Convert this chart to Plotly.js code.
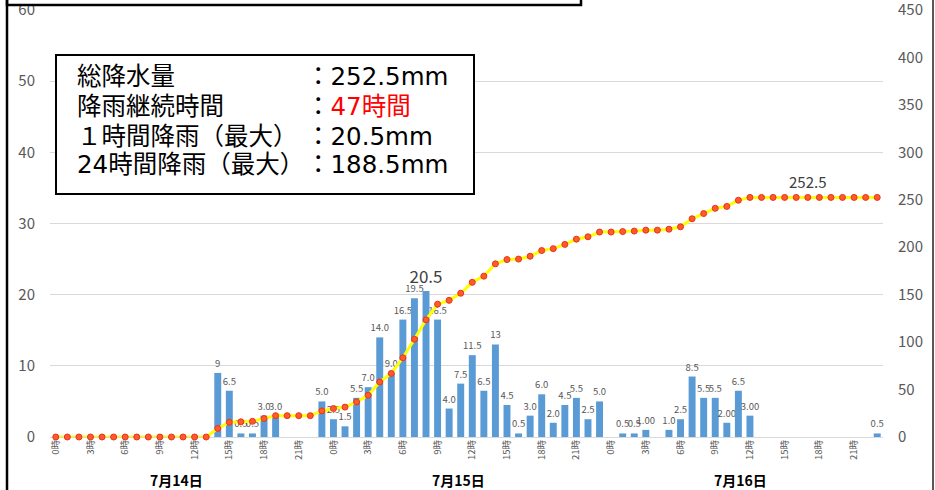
<!DOCTYPE html>
<html><head><meta charset="utf-8">
<script src="https://cdn.plot.ly/plotly-3.0.1.min.js"></script>
<style>html,body{margin:0;padding:0;background:#fff}#chart{width:935px;height:490px}</style>
</head><body><div id="chart"></div>
<script>
// ---- data ----
const days = ["7月14日", "7月15日", "7月16日"];
const hours = ["0時","1時","2時","3時","4時","5時","6時","7時","8時","9時","10時","11時",
               "12時","13時","14時","15時","16時","17時","18時","19時","20時","21時","22時","23時"];
// hourly rainfall (mm), 7/14 0時 .. 7/16 23時
const rainfall = [
  0,0,0,0,0,0,0,0,0,0,0,0,0,0, 9,6.5,0.5,0.5,3,3,0,0,0,5,
  2.5,1.5,5.5,7,14,9,16.5,19.5,20.5,16.5,4,7.5,11.5,6.5,13,4.5,0.5,3,6,2,4.5,5.5,2.5,5,
  0,0.5,0.5,1,0,1,2.5,8.5,5.5,5.5,2,6.5,3,0,0,0,0,0,0,0,0,0,0,0.5
];
const rainLabels = [
  "","","","","","","","","","","","","","", "9","6.5","0.5","0.5","3.0","3.0","","","","5.0",
  "2.5","1.5","5.5","7.0","14.0","9.0","16.5","19.5","20.5","16.5","4.0","7.5","11.5","6.5","13","4.5","0.5","3.0","6.0","2.0","4.5","5.5","2.5","5.0",
  "","0.5","0.5","1.00","","1.0","2.5","8.5","5.5","5.5","2.00","6.5","3.00","","","","","","","","","","","0.5"
];
// cumulative rainfall (mm)
const cumulative = [
  0,0,0,0,0,0,0,0,0,0,0,0,0,0, 9,15.5,16,16.5,19.5,22.5,22.5,22.5,22.5,27.5,
  30,31.5,37,44,58,67,83.5,103,123.5,140,144,151.5,163,169.5,182.5,187,187.5,190.5,196.5,198.5,203,208.5,211,216,
  216,216.5,217,218,218,219,221.5,230,235.5,241,243,249.5,252.5,252.5,252.5,252.5,252.5,252.5,252.5,252.5,252.5,252.5,252.5,252.5
];
const maxHourLabel = "20.5";
const totalLabel = "252.5";
const summaryNames = ["総降水量", "降雨継続時間", "１時間降雨（最大）", "24時間降雨（最大）"];
const summaryValues = ["：252.5mm", "：<span style='color:#FF0000'>47時間</span>", "：20.5mm", "：188.5mm"];
const tickEvery = 3;

// ---- build ----
const cats = [];
days.forEach(d => hours.forEach(h => cats.push(d + " " + h)));
const tickvals = [], ticktext = [];
cats.forEach((c, i) => { if ((i % 24) % tickEvery === 0) { tickvals.push(c); ticktext.push(hours[i % 24]); } });

const FONT = "Noto Sans CJK JP, Noto Sans, sans-serif";
const BOXFONT = "DejaVu Sans, Noto Sans CJK JP, sans-serif";
const maxIdx = rainLabels.indexOf(maxHourLabel);
const textSizes = rainLabels.map((t, i) => i === maxIdx ? 17 : 9.5);
const textColors = rainLabels.map((t, i) => i === maxIdx ? "#404040" : "#595959");

const bars = {
  type: "bar", x: cats, y: rainfall, yaxis: "y",
  marker: { color: "#5B9BD5" },
  text: rainLabels, textposition: "outside", cliponaxis: false, constraintext: "none",
  textfont: { size: textSizes, color: textColors, family: FONT },
  hoverinfo: "x+y"
};
const line = {
  type: "scatter", mode: "lines+markers", x: cats, y: cumulative, yaxis: "y2",
  line: { color: "#FFFF00", width: 3 },
  marker: { color: "#FF5A2A", size: 6, line: { color: "#E8341C", width: 1 } },
  cliponaxis: false
};

const L = 50, R = 52, T = 10, B = 53, W = 935, H = 490;
const pw = W - L - R, ph = H - T - B;
const px = v => (v - L) / pw;
const py = v => (H - B - v) / ph;

const shapes = [
  // info box
  { type: "rect", xref: "paper", yref: "paper", x0: px(56), x1: px(474), y0: py(194), y1: py(55),
    line: { color: "#000", width: 2 }, fillcolor: "#fff", layer: "above" },
  // top partial box
  { type: "rect", xref: "paper", yref: "paper", x0: px(7), x1: px(581), y0: py(5), y1: py(-20),
    line: { color: "#000", width: 2.5 }, fillcolor: "#fff", layer: "above" },
  // left frame
  { type: "line", xref: "paper", yref: "paper", x0: px(7), x1: px(7), y0: py(0), y1: py(495),
    line: { color: "#000", width: 2.5 } },
  // right frame
  { type: "line", xref: "paper", yref: "paper", x0: px(933), x1: px(933), y0: py(0), y1: py(495),
    line: { color: "#222", width: 1.5 } }
];

const annotations = [];
const rowY = [77, 106, 136, 165];
summaryNames.forEach((n, i) => {
  annotations.push({ xref: "paper", yref: "paper", x: px(75), y: py(rowY[i]), xanchor: "left", yanchor: "middle",
    text: n, showarrow: false, font: { family: BOXFONT, size: 24.5, color: "#000" } });
  annotations.push({ xref: "paper", yref: "paper", x: px(304), y: py(rowY[i]), xanchor: "left", yanchor: "middle",
    text: summaryValues[i], showarrow: false, font: { family: BOXFONT, size: 24.5, color: "#000" } });
});
const dayPos = [10.4, 34.8, 59.2];
days.forEach((d, i) => annotations.push({
  xref: "x", yref: "paper", x: dayPos[i], y: 0, yshift: -43, yanchor: "middle", xanchor: "center",
  text: "<b>" + d + "</b>", showarrow: false, font: { family: FONT, size: 14, color: "#000" }
}));
annotations.push({ xref: "x", yref: "y2", x: 65,
  y: parseFloat(totalLabel), yshift: 16, text: totalLabel, showarrow: false,
  font: { family: FONT, size: 15, color: "#404040" } });

const layout = {
  width: W, height: H,
  margin: { l: L, r: R, t: T, b: B, pad: 0 },
  paper_bgcolor: "#fff", plot_bgcolor: "#fff",
  showlegend: false, bargap: 0.4,
  font: { family: FONT, color: "#595959" },
  xaxis: { type: "category", range: [-0.5, 71.5], tickmode: "array", tickvals: tickvals, ticktext: ticktext,
    tickangle: -90, tickfont: { size: 9.5, color: "#595959" }, showgrid: false, zeroline: false, showline: false,
    ticks: "", fixedrange: true, ticklabeloverflow: "allow" },
  yaxis: { range: [0, 60], dtick: 10, gridcolor: "#D9D9D9", gridwidth: 1, zeroline: true, zerolinecolor: "#D9D9D9",
    tickfont: { size: 15, color: "#595959" }, ticklabelstandoff: 14, showline: false, ticks: "",
    ticklabeloverflow: "allow" },
  yaxis2: { range: [0, 450], dtick: 50, overlaying: "y", side: "right", showgrid: false, zeroline: false,
    tickfont: { size: 15, color: "#595959" }, ticklabelstandoff: 14, showline: false, ticks: "",
    ticklabeloverflow: "allow" },
  shapes: shapes, annotations: annotations
};
Plotly.newPlot("chart", [bars, line], layout, { displayModeBar: false, staticPlot: true });
</script></body></html>
